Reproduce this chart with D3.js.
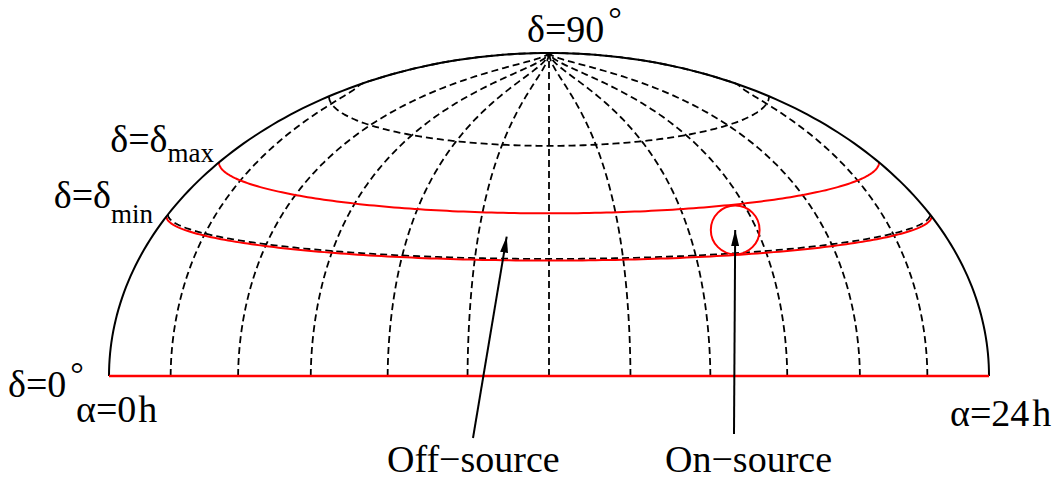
<!DOCTYPE html>
<html>
<head>
<meta charset="utf-8">
<script src="https://cdn.jsdelivr.net/npm/d3@7"></script>
<style>
  html, body { margin: 0; padding: 0; background: #fff; }
  svg { display: block; }
</style>
</head>
<body>
<svg id="chart" width="1056" height="481"></svg>
<script>
// Celestial hemisphere: right ascension meridians, declination parallels,
// the declination band [δmin, δmax] and the on/off-source regions.
const meridianHours = [2, 4, 6, 8, 10, 12, 14, 16, 18, 20, 22]; // α (h)
const parallelDecs = [30, 60];                                  // δ (deg), dashed
const bandDecs = [29.6, 41.4];                                  // δmin, δmax (deg)
const raRange = [0, 24];                                        // α (h)
const onSourceHour = 17.4;                                      // α of the source (h)
const offSourceHour = 10.8;                                     // α of an off-source point (h)

const svg = d3.select("#chart");
const serif = "'Liberation Serif', 'Times New Roman', Times, 'DejaVu Serif', serif";

// Screen scales: horizontal offset (-1..1) and height (0..1) on the dome.
const x = d3.scaleLinear().domain([-1, 1]).range([109, 989]);
const y = d3.scaleLinear().domain([0, 1]).range([376, 53]);
const hourAngle = d3.scaleLinear().domain(raRange).range([0, Math.PI]);
const rad = d => d * Math.PI / 180;

// Downward bulge of a parallel's front half, in height units.
function sag(d) {
  return 0.261 * Math.pow(Math.sin(d), 0.8) * Math.pow(Math.max(0, Math.cos(d)), 0.6);
}
// Point of a parallel at declination dec, u = -1 (left limb) .. 1 (right limb)
function parallelPoint(u, dec) {
  const d = rad(dec);
  return [x(Math.cos(d) * u), y(Math.sin(d) - sag(d) * Math.sqrt(Math.max(0, 1 - u * u)))];
}
// Sky position (α in hours, δ in degrees) -> screen
function project(hour, dec) {
  const th = hourAngle(hour);
  const g = -(0.2 * Math.cos(th) + 0.8 * (1 - 2 * th / Math.PI));
  const d = rad(dec);
  const u = Math.max(-1, Math.min(1, g * (1 + 0.2 * Math.sin(d) ** 2)));
  return parallelPoint(u, dec);
}

const line = d3.line();
const decSteps = d3.range(0, 90.01, 0.5);
const uSteps = d3.range(0, 180.01, 1).map(t => -Math.cos(rad(t)));

// Meridians (dashed)
svg.append("g")
  .selectAll("path")
  .data(meridianHours)
  .join("path")
  .attr("d", h => line(decSteps.map(dc => project(h, dc))))
  .attr("fill", "none")
  .attr("stroke", "#000")
  .attr("stroke-width", 1.8)
  .attr("stroke-dasharray", "7,4");

// Parallels (dashed)
svg.append("g")
  .selectAll("path")
  .data(parallelDecs)
  .join("path")
  .attr("d", dc => line(uSteps.map(u => parallelPoint(u, dc))))
  .attr("fill", "none")
  .attr("stroke", "#000")
  .attr("stroke-width", 1.8)
  .attr("stroke-dasharray", "7,4");

// Declination band limits (red)
svg.append("g")
  .selectAll("path")
  .data(bandDecs)
  .join("path")
  .attr("d", dc => line(uSteps.map(u => parallelPoint(u, dc))))
  .attr("fill", "none")
  .attr("stroke", "#f00")
  .attr("stroke-width", 2);

// Dome outline (limb)
svg.append("path")
  .attr("d", line(d3.range(0, 180.01, 1).map(t => [x(-Math.cos(rad(t))), y(Math.sin(rad(t)))])))
  .attr("fill", "none")
  .attr("stroke", "#000")
  .attr("stroke-width", 2);

// Equator δ = 0 (red base line)
svg.append("line")
  .attr("x1", x(-1)).attr("x2", x(1))
  .attr("y1", y(0)).attr("y2", y(0))
  .attr("stroke", "#f00")
  .attr("stroke-width", 2.5);

// On-source region: circle filling the band at the source's α
const pLo = project(onSourceHour, bandDecs[0]);
const pHi = project(onSourceHour, bandDecs[1]);
const src = [(pLo[0] + pHi[0]) / 2, (pLo[1] + pHi[1]) / 2];
const srcR = Math.abs(pLo[1] - pHi[1]) / 2;
svg.append("circle")
  .attr("cx", src[0]).attr("cy", src[1]).attr("r", srcR)
  .attr("fill", "none")
  .attr("stroke", "#f00")
  .attr("stroke-width", 2);

// Off-source point: middle of the band
const oLo = project(offSourceHour, bandDecs[0]);
const oHi = project(offSourceHour, bandDecs[1]);
const off = [(oLo[0] + oHi[0]) / 2, (oLo[1] + oHi[1]) / 2];

// Arrows
svg.append("defs").append("marker")
  .attr("id", "head")
  .attr("markerUnits", "userSpaceOnUse")
  .attr("viewBox", "0 0 16 8")
  .attr("refX", 16).attr("refY", 4)
  .attr("markerWidth", 16).attr("markerHeight", 8)
  .attr("orient", "auto")
  .append("path")
  .attr("d", "M0,0 L16,4 L0,8 Z")
  .attr("fill", "#000");

const arrows = [
  { from: [473, 438], to: off },
  { from: [734, 434], to: src }
];
svg.append("g")
  .selectAll("line")
  .data(arrows)
  .join("line")
  .attr("x1", a => a.from[0]).attr("y1", a => a.from[1])
  .attr("x2", a => a.to[0]).attr("y2", a => a.to[1])
  .attr("stroke", "#000")
  .attr("stroke-width", 2)
  .attr("marker-end", "url(#head)");

// Labels
function label(px, py, anchor, parts) {
  const t = svg.append("text")
    .attr("x", px).attr("y", py)
    .attr("text-anchor", anchor)
    .attr("font-family", serif)
    .attr("font-size", 38)
    .attr("fill", "#000");
  parts.forEach(p => {
    const s = t.append("tspan").text(p.text);
    if (p.size) s.attr("font-size", p.size);
    if (p.dx) s.attr("dx", p.dx);
    if (p.dy) s.attr("dy", p.dy);
  });
  return t;
}

label(527, 42, "start", [{ text: "δ=90" }, { text: "°", size: 34, dx: 4, dy: -12 }]);
label(214, 152, "end", [{ text: "δ=δ" }, { text: "max", size: 27, dy: 10 }]);
label(153, 208, "end", [{ text: "δ=δ" }, { text: "min", size: 27, dy: 15 }]);
label(8, 397, "start", [{ text: "δ=0" }, { text: "°", size: 34, dx: 4, dy: -12 }]);
label(76, 422, "start", [{ text: "α=0" }, { text: "h", dx: 2 }]);
label(950, 426, "start", [{ text: "α=24" }, { text: "h", dx: 3 }]);
label(387, 472, "start", [{ text: "Off−source" }]);
label(665, 472, "start", [{ text: "On−source" }]);
</script>
</body>
</html>
